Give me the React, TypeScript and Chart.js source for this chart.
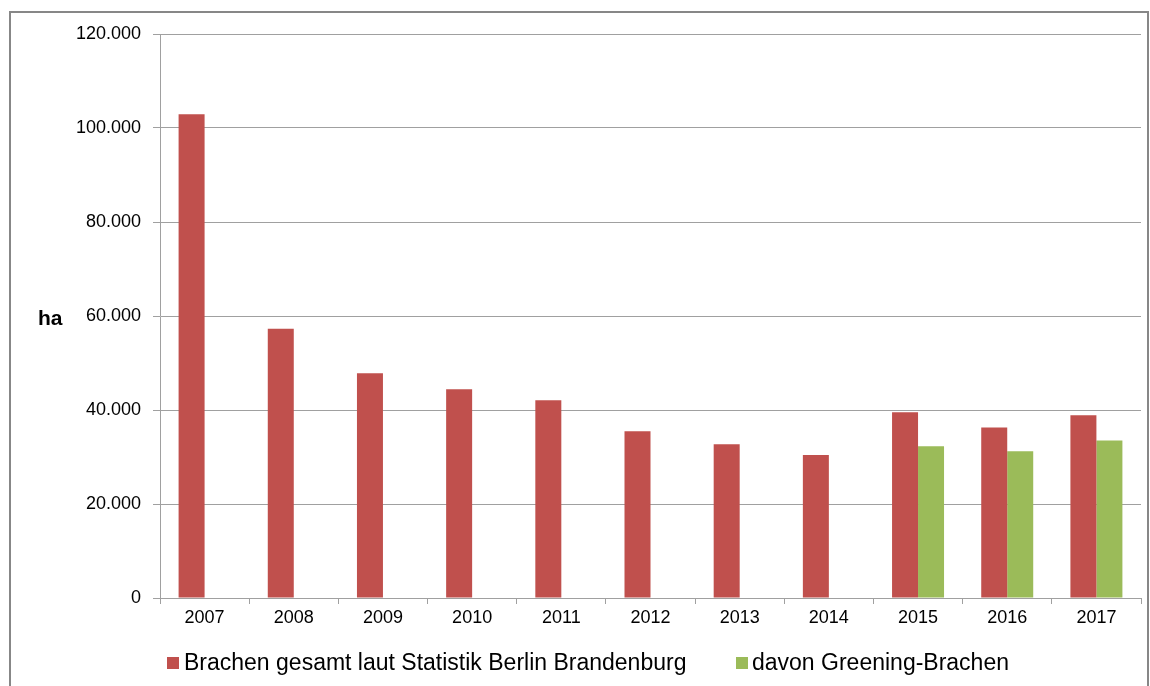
import React, { useEffect, useRef } from 'react';
import { Chart, registerables } from 'chart.js';

Chart.register(...registerables);

const years = ['2007', '2008', '2009', '2010', '2011', '2012', '2013', '2014', '2015', '2016', '2017'];
const brachenGesamt = [102900, 57300, 47800, 44400, 42100, 35500, 32700, 30400, 39500, 36300, 38900];
const greeningBrachen = [null, null, null, null, null, null, null, null, 32300, 31200, 33500];
const yTickValues = [0, 20000, 40000, 60000, 80000, 100000, 120000];
const seriesNames = ['Brachen gesamt laut Statistik Berlin Brandenburg', 'davon Greening-Brachen'];
const seriesColors = ['#C0504D', '#9BBB59'];
const yAxisTitle = 'ha';

const FONT = '"Liberation Sans", Arial, sans-serif';

function formatDe(v: number): string {
  return String(Math.round(v)).replace(/\B(?=(\d{3})+(?!\d))/g, '.');
}

export default function App() {
  const canvasRef = useRef<HTMLCanvasElement | null>(null);

  useEffect(() => {
    if (!canvasRef.current) return;
    Chart.defaults.font.family = FONT;
    const chart = new Chart(canvasRef.current, {
      type: 'bar',
      data: {
        labels: years,
        datasets: [
          {
            label: seriesNames[0],
            data: brachenGesamt,
            backgroundColor: seriesColors[0],
            borderWidth: 0,
            categoryPercentage: 0.583,
            barPercentage: 1,
          },
          {
            label: seriesNames[1],
            data: greeningBrachen as any,
            backgroundColor: seriesColors[1],
            borderWidth: 0,
            categoryPercentage: 0.583,
            barPercentage: 1,
          },
        ],
      },
      options: {
        responsive: false,
        animation: false,
        events: [],
        layout: { padding: { top: 34, right: 9, bottom: 48, left: 0 } },
        plugins: {
          legend: { display: false },
          tooltip: { enabled: false },
        },
        scales: {
          x: {
            grid: {
              display: true,
              drawOnChartArea: false,
              drawTicks: true,
              tickLength: 6,
              color: '#a0a0a0',
              offset: true,
            },
            border: { display: true, color: '#a0a0a0' },
            ticks: { font: { size: 18, family: FONT }, color: '#000', padding: 3, maxRotation: 0 },
            afterFit: (s: any) => {
              s.height = 40;
            },
          },
          y: {
            min: 0,
            max: 120000,
            afterBuildTicks: (s: any) => {
              s.ticks = yTickValues.map((v) => ({ value: v }));
            },
            ticks: {
              callback: (v: any) => formatDe(Number(v)),
              font: { size: 18, family: FONT },
              color: '#000',
              padding: 12,
            },
            grid: { color: '#a0a0a0', tickLength: 7 },
            border: { display: true, color: '#a0a0a0' },
            afterFit: (s: any) => {
              s.width = 160;
            },
          },
        },
      },
    });
    return () => chart.destroy();
  }, []);

  const legendText: React.CSSProperties = {
    position: 'absolute',
    top: 650,
    fontFamily: FONT,
    fontSize: 23,
    lineHeight: '24px',
    color: '#000',
    whiteSpace: 'nowrap',
  };

  return (
    <div
      style={{
        position: 'fixed',
        left: 0,
        top: 0,
        width: 1150,
        height: 686,
        background: '#fff',
        overflow: 'hidden',
      }}
    >
      <div
        style={{
          position: 'absolute',
          left: 9,
          top: 11,
          width: 1140,
          height: 720,
          boxSizing: 'border-box',
          border: '2px solid #878787',
        }}
      />
      <canvas ref={canvasRef} width={1150} height={686} style={{ position: 'absolute', left: 0, top: 0 }} />
      <div
        style={{
          position: 'absolute',
          left: 38,
          top: 306,
          fontFamily: FONT,
          fontWeight: 'bold',
          fontSize: 21,
          lineHeight: '24px',
          color: '#000',
        }}
      >
        {yAxisTitle}
      </div>
      <div style={{ position: 'absolute', left: 167, top: 657, width: 12, height: 12, background: seriesColors[0] }} />
      <div style={{ ...legendText, left: 184 }}>{seriesNames[0]}</div>
      <div style={{ position: 'absolute', left: 736, top: 657, width: 12, height: 12, background: seriesColors[1] }} />
      <div style={{ ...legendText, left: 752 }}>{seriesNames[1]}</div>
    </div>
  );
}
